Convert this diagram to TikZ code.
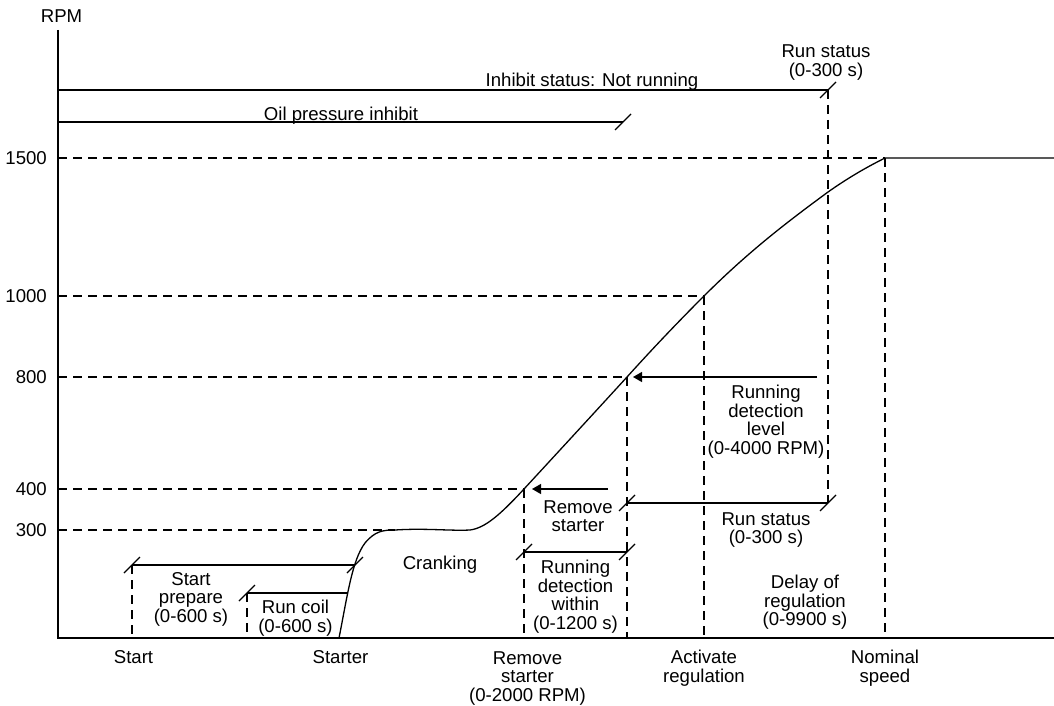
\documentclass[tikz,border=0pt]{standalone}
\usepackage{fontspec}
\setmainfont{Liberation Sans}
\usetikzlibrary{arrows.meta}
\begin{document}
\begin{tikzpicture}[x=1pt,y=-1pt,
  axis/.style={line width=2pt},
  solidline/.style={line width=1.3pt},
  guide/.style={line width=1.3pt, dash pattern=on 9pt off 6pt},
  pointer/.style={line width=1.3pt, -{Triangle[length=9pt,width=10pt]}},
  txt/.style={font=\fontsize{18.6}{18.6}\selectfont, align=center, inner sep=0pt, anchor=north},
  ylab/.style={font=\fontsize{18.6}{18.6}\selectfont, inner sep=0pt, anchor=east},
]
\newcommand\tickmark[1]{\draw[solidline] (#1) ++(-8,8) -- ++(16,-16);}
\useasboundingbox (0,0) rectangle (1054,706);

% axes
\coordinate (O) at (58,638);
\coordinate (ytop) at (58,30);
\coordinate (xend) at (1054,638);
\draw[axis] (ytop) -- (O) -- (xend);
\node[txt] (rpm) at (61.5,9.3) {RPM};

% RPM levels on the y axis
\coordinate (y1500) at (58,158);
\coordinate (y1000) at (58,296);
\coordinate (y800) at (58,377);
\coordinate (y400) at (58,489);
\coordinate (y300) at (58,530);
\node[ylab] (l1500) at (47,158) {1500};
\node[ylab] (l1000) at (47,296) {1000};
\node[ylab] (l800) at (47,377) {800};
\node[ylab] (l400) at (47,489) {400};
\node[ylab] (l300) at (47,530) {300};

% points on the speed curve
\coordinate (c0) at (339,638);
\coordinate (c300) at (395,530);
\coordinate (c400) at (524,489);
\coordinate (c800) at (627,377);
\coordinate (c1000) at (704,296);
\coordinate (c1500) at (885,158);
\coordinate (cend) at (1054,158);

% speed curve
\draw[solidline] (c0) .. controls (347,598) and (352,560) .. (365,543)
  .. controls (375,531) and (383,530) .. (c300)
  .. controls (425,528) and (450,531) .. (470,530)
  .. controls (485,528) and (500,515) .. (c400)
  .. controls (560,450) and (595,412) .. (c800)
  .. controls (655,346) and (680,320) .. (c1000)
  .. controls (750,250) and (790,220) .. (828,192)
  .. controls (848,178) and (865,168) .. (c1500)
  -- (cend);

% level guides
\draw[guide] (y1500) -- (c1500);
\draw[guide] (y1000) -- (c1000);
\draw[guide] (y800) -- (c800);
\draw[guide] (y400) -- (c400);
\draw[guide] (y300) -- (c300);

% vertical guides down to the time axis
\coordinate (sp0) at (132,565);
\coordinate (sp1) at (355,565);
\coordinate (rc0) at (247,593);
\coordinate (rc1) at (348,593);
\coordinate (rd0) at (524,552);
\coordinate (rd1) at (627,552);
\coordinate (rs0) at (627,503);
\coordinate (rs1) at (828,503);
\coordinate (inh0) at (58,90);
\coordinate (inh1) at (828,90);
\coordinate (oil0) at (58,122);
\coordinate (oil1) at (623,122);

\draw[guide] (sp0) -- (132,638);
\draw[guide] (rc0) -- (247,638);
\draw[guide] (c400) -- (524,638);
\draw[guide] (c800) -- (627,638);
\draw[guide] (c1000) -- (704,638);
\draw[guide] (inh1) -- (rs1);
\draw[guide] (c1500) -- (885,638);

% timers
\draw[solidline] (inh0) -- (inh1); \tickmark{inh1}
\draw[solidline] (oil0) -- (oil1); \tickmark{oil1}
\draw[solidline] (sp0) -- (sp1); \tickmark{sp0} \tickmark{sp1}
\draw[solidline] (rc0) -- (rc1); \tickmark{rc0}
\draw[solidline] (rd0) -- (rd1); \tickmark{rd0} \tickmark{rd1}
\draw[solidline] (rs0) -- (rs1); \tickmark{rs0} \tickmark{rs1}

% level pointers
\coordinate (rsA) at (608,489);
\coordinate (rsB) at (532,489);
\coordinate (rlA) at (817,377);
\coordinate (rlB) at (633,377);
\draw[pointer] (rsA) -- (rsB);
\draw[pointer] (rlA) -- (rlB);

% labels in the chart
\node[txt] (tinh) at (592,73) {Inhibit status: Not running};
\node[txt] (toil) at (341,107) {Oil pressure inhibit};
\node[txt] (trstop) at (826,45) {Run status\\(0-300 s)};
\node[txt] (tsp) at (191,572) {Start\\prepare\\(0-600 s)};
\node[txt] (trc) at (295.5,600) {Run coil\\(0-600 s)};
\node[txt] (tcr) at (440,556) {Cranking};
\node[txt] (trem) at (578,500) {Remove\\starter};
\node[txt] (trdw) at (575.5,560) {Running\\detection\\within\\(0-1200 s)};
\node[txt] (trdl) at (766,385) {Running\\detection\\level\\(0-4000 RPM)};
\node[txt] (trs) at (766,512) {Run status\\(0-300 s)};
\node[txt] (tdel) at (805,575) {Delay of\\regulation\\(0-9900 s)};

% labels under the time axis
\node[txt] (xstart) at (133.5,650) {Start};
\node[txt] (xstarter) at (340.5,650) {Starter};
\node[txt] (xrem) at (527.5,651) {Remove\\starter\\(0-2000 RPM)};
\node[txt] (xact) at (704,650) {Activate\\regulation};
\node[txt] (xnom) at (885,650) {Nominal\\speed};
\end{tikzpicture}
\end{document}
